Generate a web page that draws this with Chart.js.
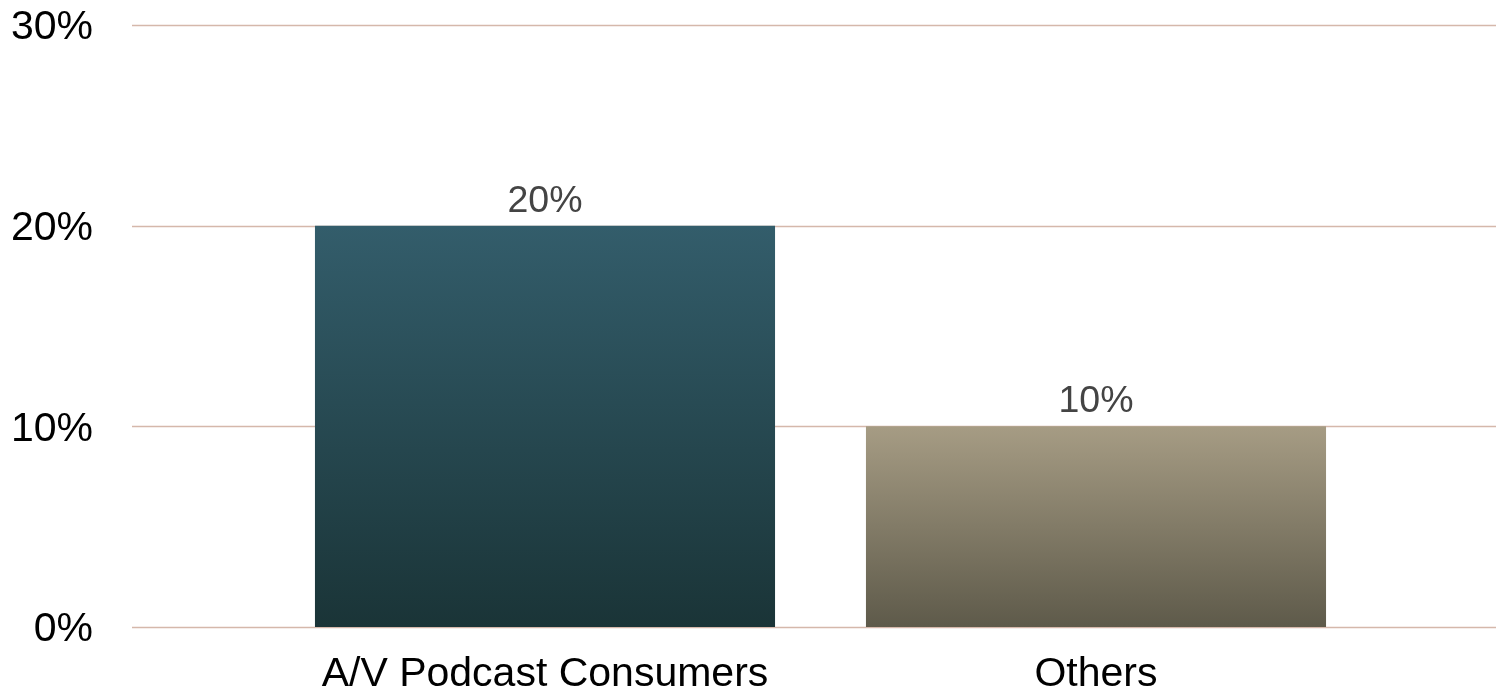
<!DOCTYPE html>
<html>
<head>
<meta charset="utf-8">
<script src="https://cdn.jsdelivr.net/npm/chart.js@4/dist/chart.umd.min.js"></script>
<style>
  html, body { margin: 0; padding: 0; background: #ffffff; }
  #wrap { width: 1496px; height: 691px; }
</style>
</head>
<body>
<div id="wrap"><canvas id="c" width="1496" height="691"></canvas></div>
<script>
const categories = ['A/V Podcast Consumers', 'Others'];
const shareValues = [20, 10];
const yTickValues = [0, 10, 20, 30];
const barTopColors = ['#335d6b', '#a69c84'];
const barBottomColors = ['#1a3437', '#5e5a4a'];

const FONT = '"Liberation Sans", Arial, Helvetica, sans-serif';

const extendedGrid = {
  id: 'extendedGrid',
  beforeDatasetsDraw(chart) {
    const ctx = chart.ctx;
    const y = chart.scales.y;
    ctx.save();
    ctx.strokeStyle = '#d5b8ab';
    ctx.lineWidth = 1.7;
    y.ticks.forEach(t => {
      const py = Math.round(y.getPixelForValue(t.value)) + 0.5;
      ctx.beginPath();
      ctx.moveTo(132, py);
      ctx.lineTo(chart.width, py);
      ctx.stroke();
    });
    ctx.restore();
  }
};

const valueLabels = {
  id: 'valueLabels',
  afterDatasetsDraw(chart) {
    const ctx = chart.ctx;
    const meta = chart.getDatasetMeta(0);
    ctx.save();
    ctx.fillStyle = '#444444';
    ctx.font = '37.5px ' + FONT;
    ctx.textAlign = 'center';
    ctx.textBaseline = 'alphabetic';
    meta.data.forEach((bar, i) => {
      ctx.fillText(shareValues[i] + '%', bar.x, bar.y - 14);
    });
    ctx.restore();
  }
};

new Chart(document.getElementById('c'), {
  type: 'bar',
  data: {
    labels: categories,
    datasets: [{
      data: shareValues,
      backgroundColor(context) {
        const chart = context.chart;
        const ys = chart.scales.y;
        if (!ys || !chart.chartArea) return barTopColors[context.dataIndex];
        const top = ys.getPixelForValue(shareValues[context.dataIndex]);
        const bottom = ys.getPixelForValue(0);
        const g = chart.ctx.createLinearGradient(0, top, 0, bottom);
        g.addColorStop(0, barTopColors[context.dataIndex]);
        g.addColorStop(1, barBottomColors[context.dataIndex]);
        return g;
      },
      borderWidth: 0,
      barPercentage: 1,
      categoryPercentage: 0.835
    }]
  },
  options: {
    responsive: false,
    animation: false,
    layout: { padding: { left: 0, right: 124.5, top: 0, bottom: 0 } },
    plugins: {
      legend: { display: false },
      tooltip: { enabled: false }
    },
    scales: {
      x: {
        grid: { display: false, drawTicks: false },
        border: { display: false },
        ticks: {
          color: '#000000',
          font: { family: FONT, size: 41 },
          padding: 23
        },
        afterFit(scale) {
          scale.height = 64;
          scale.paddingLeft = 0;
          scale.paddingRight = 0;
        }
      },
      y: {
        min: 0,
        max: 30,
        afterBuildTicks(scale) {
          scale.ticks = yTickValues.map(v => ({ value: v }));
        },
        grid: { display: false, drawTicks: false },
        border: { display: false },
        ticks: {
          color: '#000000',
          font: { family: FONT, size: 41 },
          padding: 176.5,
          labelOffset: 3,
          callback: v => v + '%'
        },
        afterFit(scale) {
          scale.width = 269.5;
          scale.paddingTop = 25;
          scale.paddingBottom = 0;
        }
      }
    }
  },
  plugins: [extendedGrid, valueLabels]
});
</script>
</body>
</html>
